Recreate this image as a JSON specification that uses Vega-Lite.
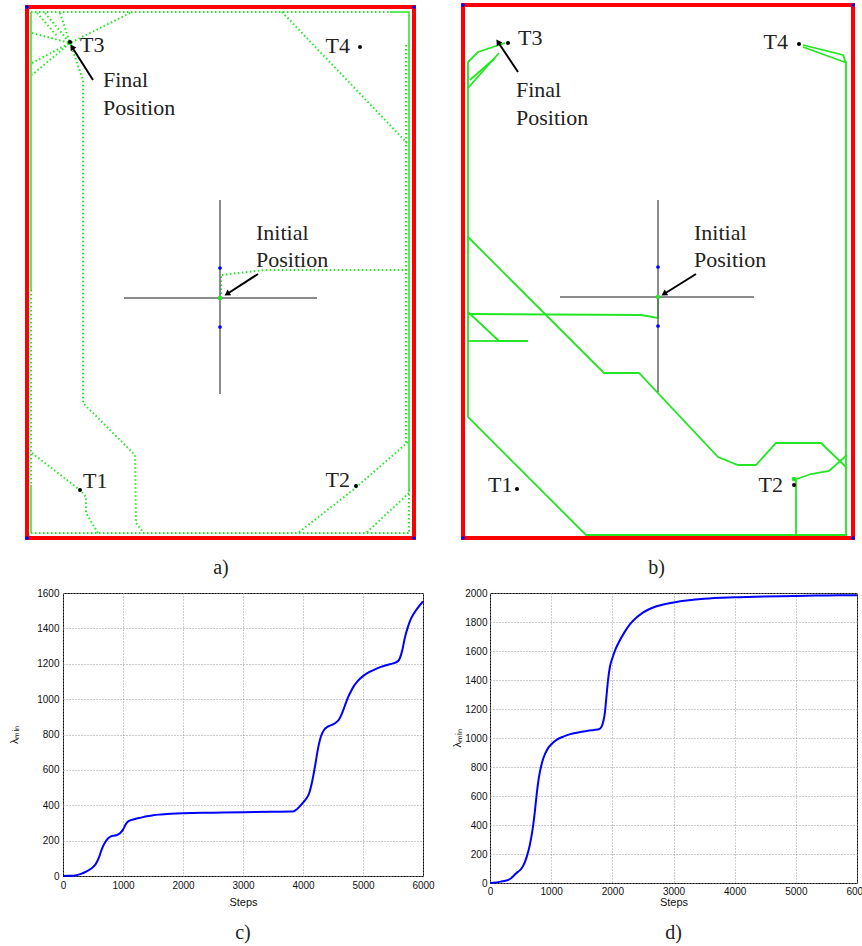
{
  "$schema": "https://vega.github.io/schema/vega-lite/v6.json",
  "background": "white",
  "padding": {"left": 8, "top": 0, "right": 0, "bottom": 0},
  "config": {
    "view": {"stroke": null},
    "title": {"font": "Liberation Serif", "fontSize": 20, "fontWeight": "normal", "color": "#222222", "orient": "bottom", "anchor": "middle"},
    "axis": {"labelFont": "Liberation Sans", "labelFontSize": 10, "labelColor": "#111111", "titleFont": "Liberation Sans", "titleFontSize": 11, "titleFontWeight": "normal", "titleColor": "#111111", "ticks": false, "domain": false, "grid": true, "gridColor": "#999999", "gridDash": [1, 2], "gridOpacity": 1, "labelFlush": false, "labelOverlap": false, "format": "d"}
  },
  "datasets": {
    "a_frame": [
      {"x": 0, "y": 0, "x2": 387, "y2": 0}, {"x": 387, "y": 0, "x2": 387, "y2": 531},
      {"x": 0, "y": 531, "x2": 387, "y2": 531}, {"x": 0, "y": 0, "x2": 0, "y2": 531}
    ],
    "a_solid": [
      {"p": 1, "o": 1, "x": 4, "y": 5}, {"p": 1, "o": 2, "x": 4, "y": 283},
      {"p": 2, "o": 1, "x": 4, "y": 478}, {"p": 2, "o": 2, "x": 4, "y": 526},
      {"p": 3, "o": 1, "x": 363, "y": 5}, {"p": 3, "o": 2, "x": 382, "y": 5}, {"p": 3, "o": 3, "x": 382, "y": 483}
    ],
    "a_dotted": [
      {"p": 1, "o": 1, "x": 4, "y": 5}, {"p": 1, "o": 2, "x": 363, "y": 5},
      {"p": 2, "o": 1, "x": 4, "y": 283}, {"p": 2, "o": 2, "x": 4, "y": 478},
      {"p": 3, "o": 1, "x": 4, "y": 526}, {"p": 3, "o": 2, "x": 382, "y": 526},
      {"p": 4, "o": 1, "x": 382, "y": 483}, {"p": 4, "o": 2, "x": 382, "y": 526},
      {"p": 5, "o": 1, "x": 379, "y": 38}, {"p": 5, "o": 2, "x": 379, "y": 436},
      {"p": 6, "o": 1, "x": 255, "y": 5}, {"p": 6, "o": 2, "x": 380, "y": 136},
      {"p": 7, "o": 1, "x": 194, "y": 291}, {"p": 7, "o": 2, "x": 194, "y": 268}, {"p": 7, "o": 3, "x": 238, "y": 263}, {"p": 7, "o": 4, "x": 382, "y": 263},
      {"p": 8, "o": 1, "x": 103, "y": 6}, {"p": 8, "o": 2, "x": 43, "y": 36}, {"p": 8, "o": 3, "x": 5, "y": 68},
      {"p": 9, "o": 1, "x": 5, "y": 56}, {"p": 9, "o": 2, "x": 43, "y": 36},
      {"p": 10, "o": 1, "x": 5, "y": 26}, {"p": 10, "o": 2, "x": 43, "y": 36},
      {"p": 11, "o": 1, "x": 18, "y": 6}, {"p": 11, "o": 2, "x": 43, "y": 36},
      {"p": 12, "o": 1, "x": 33, "y": 6}, {"p": 12, "o": 2, "x": 43, "y": 36},
      {"p": 13, "o": 1, "x": 43, "y": 36}, {"p": 13, "o": 2, "x": 56, "y": 73}, {"p": 13, "o": 3, "x": 56, "y": 396}, {"p": 13, "o": 4, "x": 108, "y": 448}, {"p": 13, "o": 5, "x": 109, "y": 516}, {"p": 13, "o": 6, "x": 117, "y": 526},
      {"p": 14, "o": 1, "x": 5, "y": 446}, {"p": 14, "o": 2, "x": 53, "y": 483},
      {"p": 15, "o": 1, "x": 55, "y": 485}, {"p": 15, "o": 2, "x": 59, "y": 490}, {"p": 15, "o": 3, "x": 59, "y": 506}, {"p": 15, "o": 4, "x": 71, "y": 526},
      {"p": 16, "o": 1, "x": 381, "y": 435}, {"p": 16, "o": 2, "x": 326, "y": 483}, {"p": 16, "o": 3, "x": 271, "y": 526},
      {"p": 17, "o": 1, "x": 382, "y": 486}, {"p": 17, "o": 2, "x": 339, "y": 526},
      {"p": 18, "o": 1, "x": 10, "y": 6}, {"p": 18, "o": 2, "x": 31, "y": 30}
    ],
    "a_cross": [
      {"x": 193, "y": 193, "x2": 193, "y2": 387}, {"x": 97, "y": 291, "x2": 290, "y2": 291}
    ],
    "a_arrows": [
      {"x": 66, "y": 73, "x2": 45, "y2": 40}, {"x": 231, "y": 267, "x2": 200, "y2": 287}
    ],
    "a_head1": [{"x": 45, "y": 40}],
    "a_head2": [{"x": 200, "y": 287}],
    "a_blue": [
      {"x": 193, "y": 261}, {"x": 193, "y": 320},
      {"x": 0, "y": 0}, {"x": 387, "y": 0}, {"x": 0, "y": 531}, {"x": 387, "y": 531}
    ],
    "a_green": [{"x": 193, "y": 291}, {"x": 43, "y": 36}],
    "a_targets": [{"x": 43, "y": 35}, {"x": 333, "y": 40}, {"x": 53, "y": 483}, {"x": 329, "y": 479}],
    "a_text_left": [
      {"x": 53, "y": 38, "t": "T3"}, {"x": 56, "y": 474, "t": "T1"},
      {"x": 76, "y": 73, "t": "Final"}, {"x": 76, "y": 101, "t": "Position"},
      {"x": 229, "y": 226, "t": "Initial"}, {"x": 229, "y": 253, "t": "Position"}
    ],
    "a_text_right": [
      {"x": 323, "y": 39, "t": "T4"}, {"x": 323, "y": 473, "t": "T2"}
    ],
    "b_frame": [
      {"x": 0, "y": 0, "x2": 390, "y2": 0}, {"x": 390, "y": 0, "x2": 390, "y2": 533},
      {"x": 0, "y": 533, "x2": 390, "y2": 533}, {"x": 0, "y": 0, "x2": 0, "y2": 533}
    ],
    "b_solid": [
      {"p": 1, "o": 1, "x": 42, "y": 38}, {"p": 1, "o": 2, "x": 15, "y": 47}, {"p": 1, "o": 3, "x": 5, "y": 57}, {"p": 1, "o": 4, "x": 5, "y": 412}, {"p": 1, "o": 5, "x": 123, "y": 530}, {"p": 1, "o": 6, "x": 383, "y": 530}, {"p": 1, "o": 7, "x": 383, "y": 58}, {"p": 1, "o": 8, "x": 380, "y": 50}, {"p": 1, "o": 9, "x": 340, "y": 40},
      {"p": 2, "o": 1, "x": 36, "y": 48}, {"p": 2, "o": 2, "x": 5, "y": 83},
      {"p": 3, "o": 1, "x": 32, "y": 53}, {"p": 3, "o": 2, "x": 7, "y": 75},
      {"p": 4, "o": 1, "x": 340, "y": 42}, {"p": 4, "o": 2, "x": 384, "y": 58},
      {"p": 5, "o": 1, "x": 5, "y": 232}, {"p": 5, "o": 2, "x": 48, "y": 275}, {"p": 5, "o": 3, "x": 141, "y": 368}, {"p": 5, "o": 4, "x": 176, "y": 368}, {"p": 5, "o": 5, "x": 255, "y": 452}, {"p": 5, "o": 6, "x": 275, "y": 460}, {"p": 5, "o": 7, "x": 293, "y": 460}, {"p": 5, "o": 8, "x": 313, "y": 438}, {"p": 5, "o": 9, "x": 358, "y": 438}, {"p": 5, "o": 10, "x": 384, "y": 463},
      {"p": 6, "o": 1, "x": 195, "y": 292}, {"p": 6, "o": 2, "x": 195, "y": 313}, {"p": 6, "o": 3, "x": 178, "y": 310}, {"p": 6, "o": 4, "x": 5, "y": 309},
      {"p": 7, "o": 1, "x": 5, "y": 307}, {"p": 7, "o": 2, "x": 36, "y": 336}, {"p": 7, "o": 3, "x": 65, "y": 336},
      {"p": 8, "o": 1, "x": 5, "y": 336}, {"p": 8, "o": 2, "x": 36, "y": 336},
      {"p": 9, "o": 1, "x": 331, "y": 475}, {"p": 9, "o": 2, "x": 348, "y": 469}, {"p": 9, "o": 3, "x": 366, "y": 466}, {"p": 9, "o": 4, "x": 384, "y": 450},
      {"p": 10, "o": 1, "x": 333, "y": 475}, {"p": 10, "o": 2, "x": 333, "y": 530}
    ],
    "b_cross": [
      {"x": 195, "y": 195, "x2": 195, "y2": 387}, {"x": 97, "y": 292, "x2": 291, "y2": 292}
    ],
    "b_arrows": [
      {"x": 55, "y": 67, "x2": 35, "y2": 37}, {"x": 233, "y": 269, "x2": 201, "y2": 289}
    ],
    "b_head1": [{"x": 35, "y": 37}],
    "b_head2": [{"x": 201, "y": 289}],
    "b_blue": [
      {"x": 195, "y": 262}, {"x": 195, "y": 321},
      {"x": 0, "y": 0}, {"x": 390, "y": 0}, {"x": 0, "y": 533}, {"x": 390, "y": 533}
    ],
    "b_green": [{"x": 195, "y": 292}, {"x": 331, "y": 474}],
    "b_targets": [{"x": 45, "y": 38}, {"x": 336, "y": 39}, {"x": 54, "y": 484}, {"x": 331, "y": 480}],
    "b_text_left": [
      {"x": 55, "y": 33, "t": "T3"}, {"x": 25, "y": 480, "t": "T1"},
      {"x": 53, "y": 85, "t": "Final"}, {"x": 53, "y": 113, "t": "Position"},
      {"x": 231, "y": 228, "t": "Initial"}, {"x": 231, "y": 255, "t": "Position"}
    ],
    "b_text_right": [
      {"x": 325, "y": 37, "t": "T4"}, {"x": 320, "y": 480, "t": "T2"}
    ],
    "c_data": [
      {"step": 0, "v": 0}, {"step": 100, "v": 1}, {"step": 200, "v": 3}, {"step": 300, "v": 12}, {"step": 400, "v": 28}, {"step": 500, "v": 50}, {"step": 550, "v": 70}, {"step": 600, "v": 105}, {"step": 650, "v": 155}, {"step": 700, "v": 190}, {"step": 750, "v": 212}, {"step": 800, "v": 224}, {"step": 850, "v": 228}, {"step": 900, "v": 232}, {"step": 950, "v": 242}, {"step": 1000, "v": 262}, {"step": 1050, "v": 295}, {"step": 1100, "v": 312}, {"step": 1200, "v": 322}, {"step": 1300, "v": 330}, {"step": 1400, "v": 338}, {"step": 1500, "v": 343}, {"step": 1600, "v": 347}, {"step": 1800, "v": 352}, {"step": 2000, "v": 355}, {"step": 2500, "v": 358}, {"step": 3000, "v": 361}, {"step": 3500, "v": 363}, {"step": 3800, "v": 364}, {"step": 3850, "v": 366}, {"step": 3900, "v": 378}, {"step": 3950, "v": 395}, {"step": 4000, "v": 415}, {"step": 4050, "v": 435}, {"step": 4100, "v": 465}, {"step": 4150, "v": 530}, {"step": 4200, "v": 620}, {"step": 4250, "v": 720}, {"step": 4300, "v": 790}, {"step": 4350, "v": 825}, {"step": 4400, "v": 842}, {"step": 4450, "v": 850}, {"step": 4500, "v": 857}, {"step": 4550, "v": 868}, {"step": 4600, "v": 885}, {"step": 4650, "v": 920}, {"step": 4700, "v": 965}, {"step": 4750, "v": 1010}, {"step": 4800, "v": 1045}, {"step": 4850, "v": 1075}, {"step": 4900, "v": 1098}, {"step": 5000, "v": 1130}, {"step": 5100, "v": 1152}, {"step": 5200, "v": 1168}, {"step": 5300, "v": 1182}, {"step": 5400, "v": 1193}, {"step": 5500, "v": 1202}, {"step": 5550, "v": 1208}, {"step": 5600, "v": 1222}, {"step": 5650, "v": 1270}, {"step": 5700, "v": 1350}, {"step": 5750, "v": 1410}, {"step": 5800, "v": 1455}, {"step": 5900, "v": 1510}, {"step": 6000, "v": 1552}
    ],
    "d_data": [
      {"step": 0, "v": 0}, {"step": 100, "v": 3}, {"step": 200, "v": 12}, {"step": 300, "v": 22}, {"step": 350, "v": 35}, {"step": 400, "v": 55}, {"step": 450, "v": 75}, {"step": 500, "v": 92}, {"step": 550, "v": 125}, {"step": 600, "v": 180}, {"step": 650, "v": 260}, {"step": 700, "v": 380}, {"step": 730, "v": 480}, {"step": 760, "v": 600}, {"step": 800, "v": 730}, {"step": 850, "v": 830}, {"step": 900, "v": 890}, {"step": 950, "v": 930}, {"step": 1000, "v": 955}, {"step": 1100, "v": 990}, {"step": 1200, "v": 1010}, {"step": 1300, "v": 1025}, {"step": 1400, "v": 1035}, {"step": 1500, "v": 1043}, {"step": 1600, "v": 1050}, {"step": 1700, "v": 1055}, {"step": 1780, "v": 1060}, {"step": 1820, "v": 1075}, {"step": 1850, "v": 1110}, {"step": 1880, "v": 1180}, {"step": 1900, "v": 1270}, {"step": 1930, "v": 1400}, {"step": 1960, "v": 1490}, {"step": 2000, "v": 1550}, {"step": 2050, "v": 1610}, {"step": 2100, "v": 1655}, {"step": 2200, "v": 1730}, {"step": 2300, "v": 1790}, {"step": 2400, "v": 1832}, {"step": 2500, "v": 1865}, {"step": 2600, "v": 1888}, {"step": 2700, "v": 1905}, {"step": 2800, "v": 1917}, {"step": 3000, "v": 1935}, {"step": 3250, "v": 1950}, {"step": 3500, "v": 1960}, {"step": 4000, "v": 1970}, {"step": 4500, "v": 1976}, {"step": 5000, "v": 1980}, {"step": 5500, "v": 1983}, {"step": 6000, "v": 1985}
    ]
  },
  "spacing": 9,
  "vconcat": [
    {
      "spacing": 0,
      "hconcat": [
        {
          "width": 368, "height": 548,
          "title": {"text": "a)", "offset": 10, "dx": -26},
          "encoding": {
            "x": {"field": "x", "type": "quantitative", "scale": {"domain": [36, 404], "nice": false, "zero": false}, "axis": null},
            "y": {"field": "y", "type": "quantitative", "scale": {"domain": [-7, 541], "nice": false, "zero": false, "reverse": true}, "axis": null}
          },
          "layer": [
            {"data": {"name": "a_dotted"}, "mark": {"type": "line", "color": "#22e622", "strokeWidth": 2, "strokeDash": [1.5, 2.5]}, "encoding": {"detail": {"field": "p"}, "order": {"field": "o"}}},
            {"data": {"name": "a_solid"}, "mark": {"type": "line", "color": "#22e622", "strokeWidth": 1.5}, "encoding": {"detail": {"field": "p"}, "order": {"field": "o"}}},
            {"data": {"name": "a_frame"}, "mark": {"type": "rule", "color": "#ff0000", "strokeWidth": 4, "strokeCap": "square"}, "encoding": {"x2": {"field": "x2"}, "y2": {"field": "y2"}}},
            {"data": {"name": "a_cross"}, "mark": {"type": "rule", "color": "#666666", "strokeWidth": 1.5}, "encoding": {"x2": {"field": "x2"}, "y2": {"field": "y2"}}},
            {"data": {"name": "a_arrows"}, "mark": {"type": "rule", "color": "#000000", "strokeWidth": 2}, "encoding": {"x2": {"field": "x2"}, "y2": {"field": "y2"}}},
            {"data": {"name": "a_head1"}, "mark": {"type": "point", "shape": "triangle-up", "filled": true, "color": "#000000", "size": 45, "angle": 327, "opacity": 1}},
            {"data": {"name": "a_head2"}, "mark": {"type": "point", "shape": "triangle-up", "filled": true, "color": "#000000", "size": 45, "angle": 237, "opacity": 1}},
            {"data": {"name": "a_blue"}, "mark": {"type": "point", "filled": true, "color": "#0000ff", "size": 14, "opacity": 1}},
            {"data": {"name": "a_green"}, "mark": {"type": "point", "filled": true, "color": "#22e622", "size": 22, "opacity": 1}},
            {"data": {"name": "a_targets"}, "mark": {"type": "point", "filled": true, "color": "#000000", "size": 16, "opacity": 1}},
            {"data": {"name": "a_text_left"}, "mark": {"type": "text", "align": "left", "baseline": "middle", "font": "Liberation Serif", "fontSize": 22, "color": "#222222"}, "encoding": {"text": {"field": "t"}}},
            {"data": {"name": "a_text_right"}, "mark": {"type": "text", "align": "right", "baseline": "middle", "font": "Liberation Serif", "fontSize": 22, "color": "#222222"}, "encoding": {"text": {"field": "t"}}}
          ]
        },
        {
          "width": 431, "height": 548,
          "title": {"text": "b)", "offset": 10, "dx": 10},
          "encoding": {
            "x": {"field": "x", "type": "quantitative", "scale": {"domain": [-32, 399], "nice": false, "zero": false}, "axis": null},
            "y": {"field": "y", "type": "quantitative", "scale": {"domain": [-5, 543], "nice": false, "zero": false, "reverse": true}, "axis": null}
          },
          "layer": [
            {"data": {"name": "b_solid"}, "mark": {"type": "line", "color": "#22e622", "strokeWidth": 1.8}, "encoding": {"detail": {"field": "p"}, "order": {"field": "o"}}},
            {"data": {"name": "b_frame"}, "mark": {"type": "rule", "color": "#ff0000", "strokeWidth": 4, "strokeCap": "square"}, "encoding": {"x2": {"field": "x2"}, "y2": {"field": "y2"}}},
            {"data": {"name": "b_cross"}, "mark": {"type": "rule", "color": "#666666", "strokeWidth": 1.5}, "encoding": {"x2": {"field": "x2"}, "y2": {"field": "y2"}}},
            {"data": {"name": "b_arrows"}, "mark": {"type": "rule", "color": "#000000", "strokeWidth": 2}, "encoding": {"x2": {"field": "x2"}, "y2": {"field": "y2"}}},
            {"data": {"name": "b_head1"}, "mark": {"type": "point", "shape": "triangle-up", "filled": true, "color": "#000000", "size": 45, "angle": 326, "opacity": 1}},
            {"data": {"name": "b_head2"}, "mark": {"type": "point", "shape": "triangle-up", "filled": true, "color": "#000000", "size": 45, "angle": 238, "opacity": 1}},
            {"data": {"name": "b_blue"}, "mark": {"type": "point", "filled": true, "color": "#0000ff", "size": 14, "opacity": 1}},
            {"data": {"name": "b_green"}, "mark": {"type": "point", "filled": true, "color": "#22e622", "size": 22, "opacity": 1}},
            {"data": {"name": "b_targets"}, "mark": {"type": "point", "filled": true, "color": "#000000", "size": 16, "opacity": 1}},
            {"data": {"name": "b_text_left"}, "mark": {"type": "text", "align": "left", "baseline": "middle", "font": "Liberation Serif", "fontSize": 22, "color": "#222222"}, "encoding": {"text": {"field": "t"}}},
            {"data": {"name": "b_text_right"}, "mark": {"type": "text", "align": "right", "baseline": "middle", "font": "Liberation Serif", "fontSize": 22, "color": "#222222"}, "encoding": {"text": {"field": "t"}}}
          ]
        }
      ]
    },
    {
      "spacing": 16,
      "hconcat": [
        {
          "width": 360, "height": 283,
          "view": {"stroke": "#000000", "strokeWidth": 1},
          "title": {"text": "c)", "offset": 16},
          "data": {"name": "c_data"},
          "mark": {"type": "line", "color": "#0000ff", "strokeWidth": 2, "interpolate": "monotone"},
          "encoding": {
            "x": {"field": "step", "type": "quantitative", "scale": {"domain": [0, 6000], "nice": false}, "axis": {"title": "Steps", "values": [0, 1000, 2000, 3000, 4000, 5000, 6000], "labelPadding": 4, "titlePadding": 6}},
            "y": {"field": "v", "type": "quantitative", "scale": {"domain": [0, 1600], "nice": false}, "axis": {"title": "λₘᵢₙ", "values": [0, 200, 400, 600, 800, 1000, 1200, 1400, 1600], "labelPadding": 4, "titlePadding": 17}}
          }
        },
        {
          "width": 367, "height": 290,
          "view": {"stroke": "#000000", "strokeWidth": 1},
          "title": {"text": "d)", "offset": 16},
          "data": {"name": "d_data"},
          "mark": {"type": "line", "color": "#0000ff", "strokeWidth": 2, "interpolate": "monotone"},
          "encoding": {
            "x": {"field": "step", "type": "quantitative", "scale": {"domain": [0, 6000], "nice": false}, "axis": {"title": "Steps", "values": [0, 1000, 2000, 3000, 4000, 5000, 6000], "labelPadding": 3, "titlePadding": 0}},
            "y": {"field": "v", "type": "quantitative", "scale": {"domain": [0, 2000], "nice": false}, "axis": {"title": "λₘᵢₙ", "values": [0, 200, 400, 600, 800, 1000, 1200, 1400, 1600, 1800, 2000], "labelPadding": 3, "titlePadding": 2}}
          }
        }
      ]
    }
  ]
}
